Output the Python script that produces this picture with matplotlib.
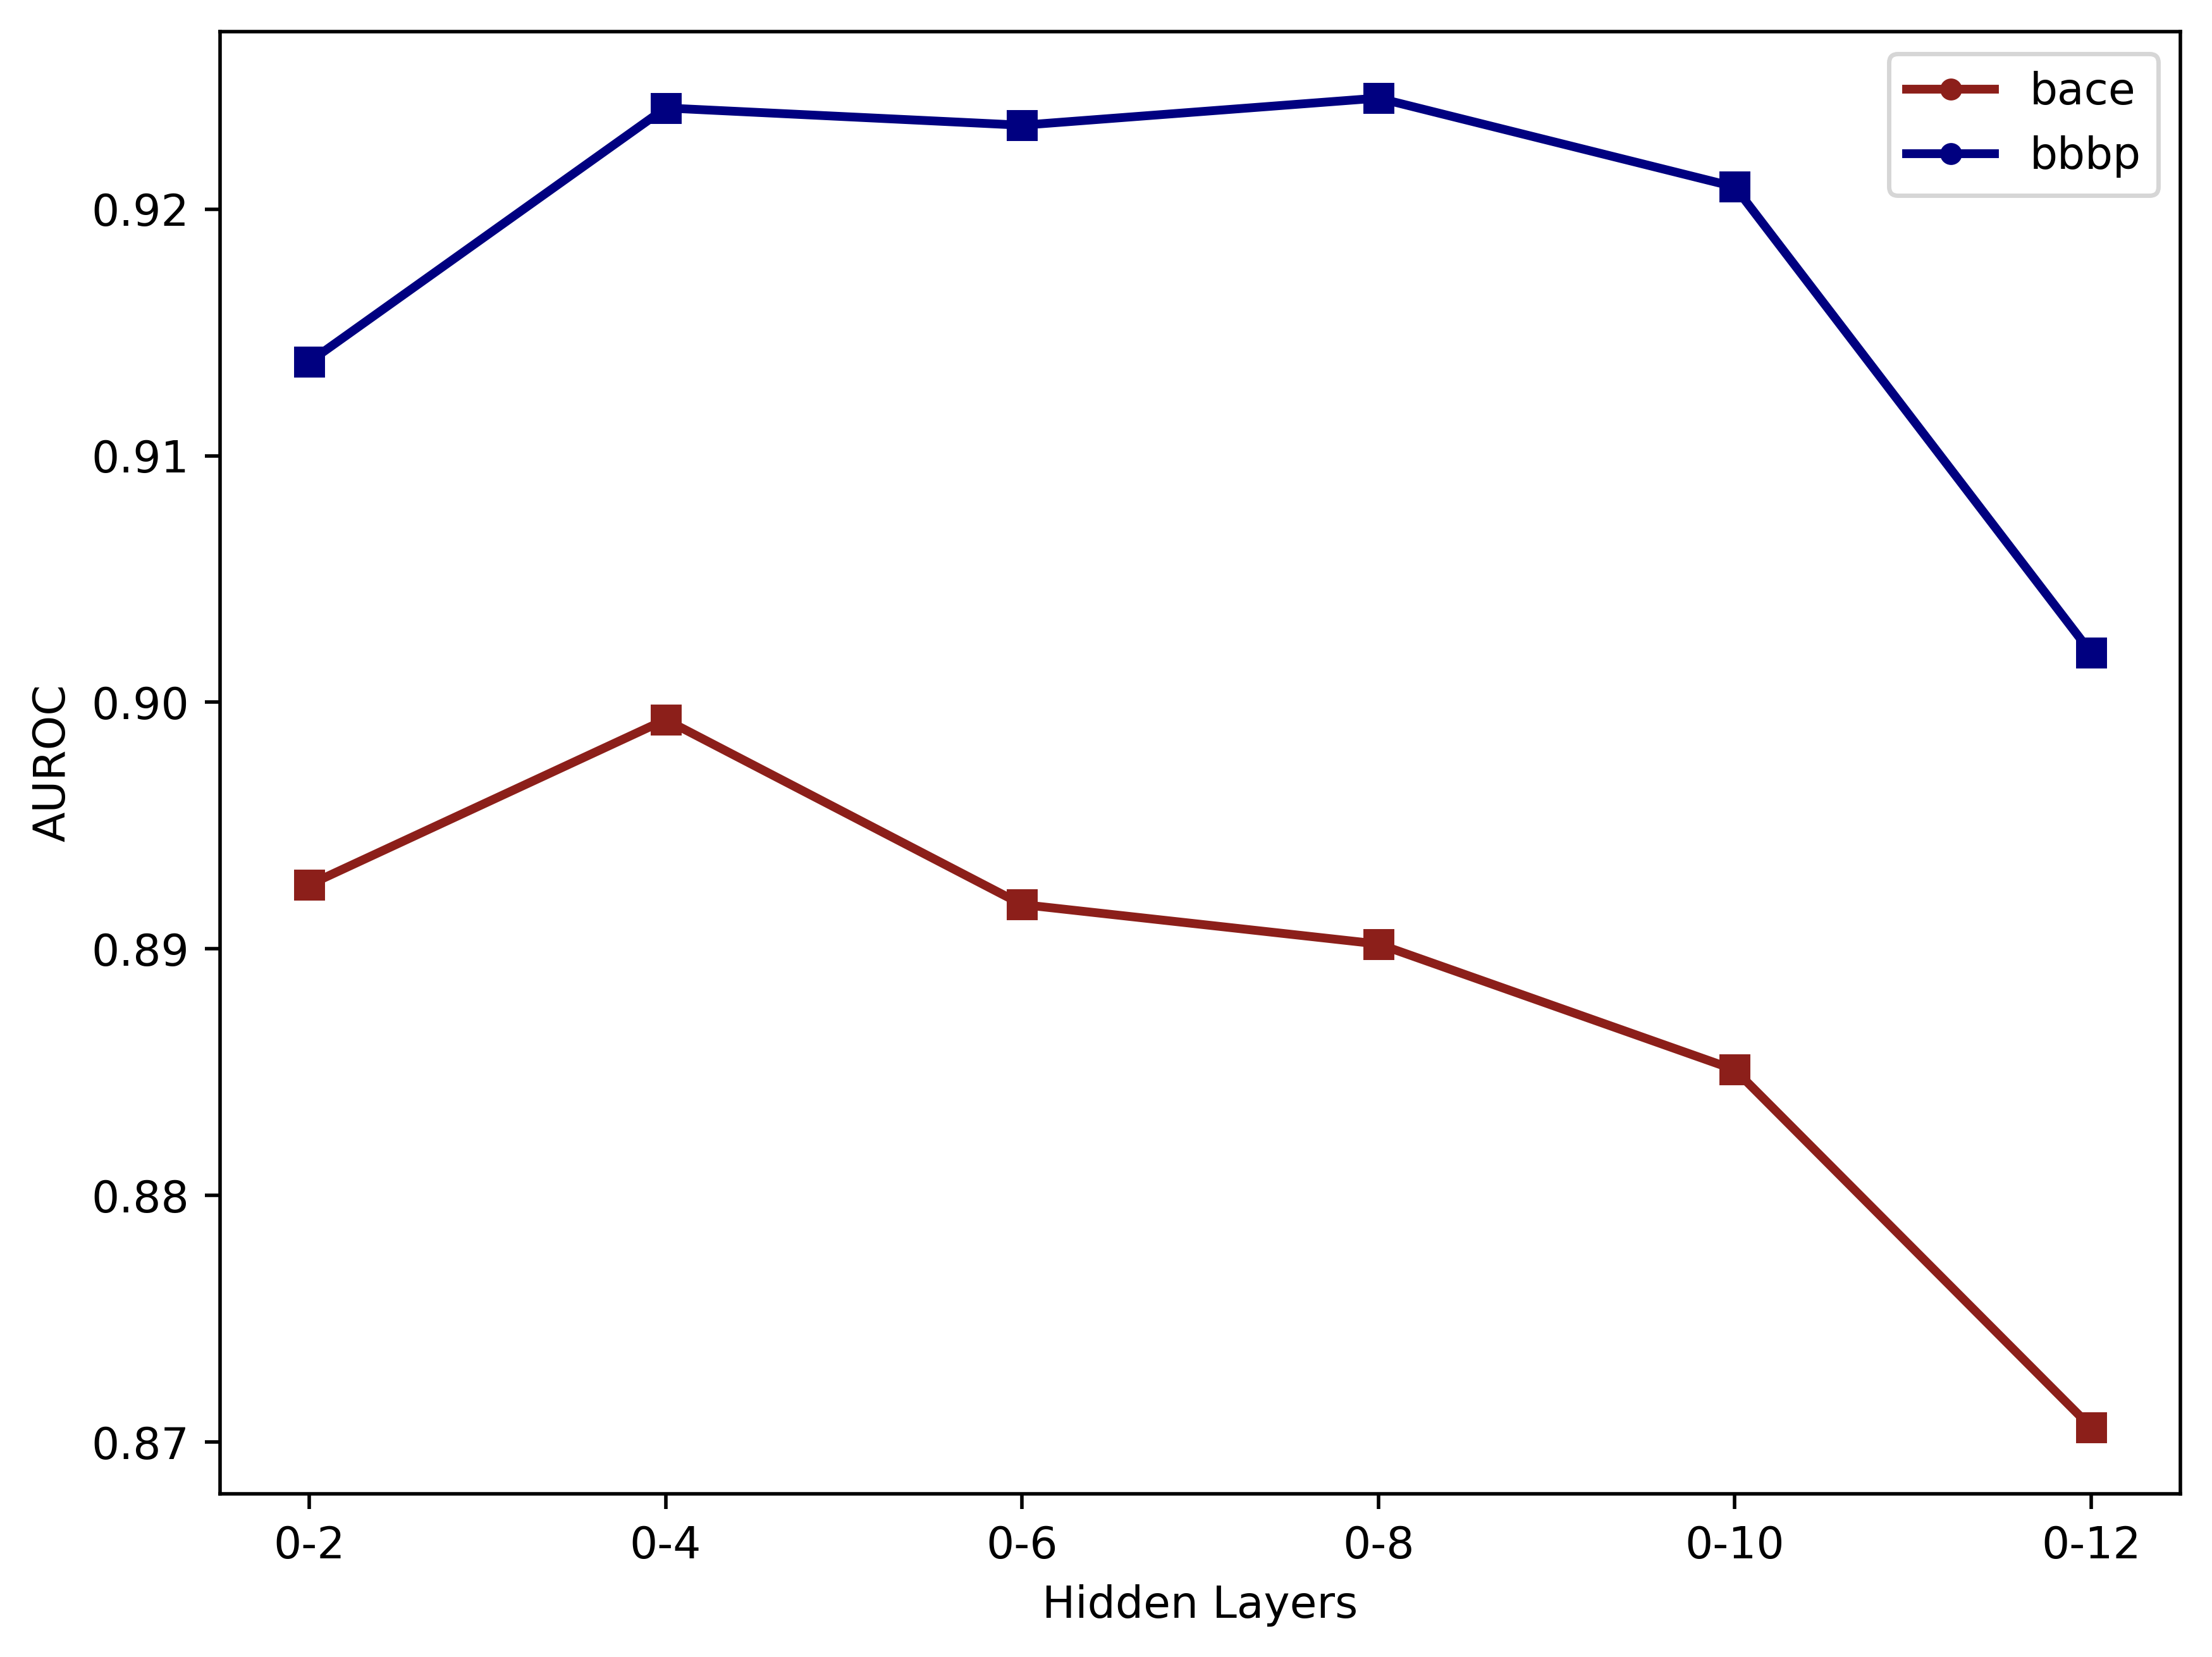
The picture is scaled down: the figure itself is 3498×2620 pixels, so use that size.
import matplotlib
matplotlib.use('Agg')
import matplotlib.pyplot as plt
from matplotlib.lines import Line2D

layers = ['0-2', '0-4', '0-6', '0-8', '0-10', '0-12']
bace = [0.8926, 0.8993, 0.8918, 0.8902, 0.8851, 0.8706]
bbbp = [0.9138, 0.9241, 0.9234, 0.9245, 0.9209, 0.9020]

bace_color = '#8c1f1a'
bbbp_color = '#000080'

fig = plt.figure(figsize=(3498 / 500, 2620 / 500), dpi=500)
ax = fig.add_axes([348 / 3498, (2620 - 2362) / 2620, (3448 - 348) / 3498, (2362 - 50) / 2620])

x = range(len(layers))
ax.plot(x, bace, color=bace_color, lw=2, marker='s', ms=6)
ax.plot(x, bbbp, color=bbbp_color, lw=2, marker='s', ms=6)
ax.set_xticks(list(x))
ax.set_xticklabels(layers)
ax.set_xlabel('Hidden Layers')
ax.set_ylabel('AUROC')

handles = [
    Line2D([0], [0], color=bace_color, lw=2, marker='o', ms=4),
    Line2D([0], [0], color=bbbp_color, lw=2, marker='o', ms=4),
]
ax.legend(handles, ['bace', 'bbbp'], loc='upper right')

fig.savefig('out.png', dpi=500)
